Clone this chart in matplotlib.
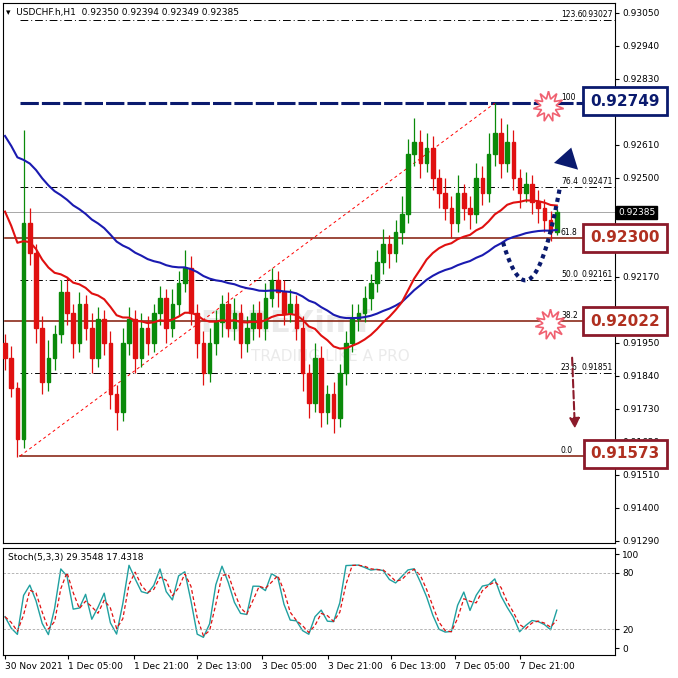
import numpy as np
import pandas as pd
import matplotlib
matplotlib.use("Agg")
import matplotlib.pyplot as plt
from matplotlib.patches import Rectangle

closes = [0.9190,0.9180,0.9163,0.9235,0.9225,0.9200,0.9182,0.9190,0.9198,0.9212,
          0.9205,0.9195,0.9208,0.9200,0.9190,0.9203,0.9195,0.9178,0.9172,0.9195,
          0.9203,0.9190,0.9200,0.9195,0.9205,0.9210,0.9200,0.9208,0.9215,0.9220,
          0.9205,0.9195,0.9185,0.9195,0.9202,0.9208,0.9200,0.9205,0.9195,0.9200,
          0.9205,0.9200,0.9210,0.9216,0.9212,0.9205,0.9208,0.9200,0.9185,0.9175,
          0.9190,0.9172,0.9178,0.9170,0.9185,0.9195,0.9203,0.9205,0.9210,0.9215,
          0.9222,0.9228,0.9225,0.9232,0.9238,0.9258,0.9262,0.9255,0.9260,0.9250,
          0.9245,0.9240,0.9235,0.9245,0.9240,0.9238,0.9250,0.9245,0.9258,0.9265,
          0.9255,0.9262,0.9250,0.9245,0.9248,0.9242,0.9240,0.9236,0.9232,0.92385]
first_open = 0.9195
up_wick_pips = [3,4,2,31,5,3,4,6,3,4, 5,3,4,3,5,4,3,4,3,5, 4,3,5,4,3,4,3,5,4,6,
                4,3,4,5,4,3,4,5,3,4, 3,4,5,4,3,4,5,3,4,3, 5,4,3,4,3,4,5,3,4,3,
                4,5,3,4,6,5,8,4,5,4, 3,5,4,6,3,4,5,4,7,10, 5,6,4,3,4,3,4,3,3,1]
dn_wick_pips = [4,3,6,3,4,5,4,3,4,3, 4,5,3,4,5,3,4,5,6,3, 4,5,3,4,3,4,5,3,4,3,
                4,5,4,3,4,5,3,4,5,3, 4,3,4,3,5,4,3,4,6,5, 3,5,4,5,3,4,3,4,3,4,
                3,4,5,3,4,3,4,5,3,4, 5,4,5,3,4,5,3,4,3,4, 5,3,4,5,3,4,5,4,3,1]
ema_fast_seed = 0.9243
ema_slow_seed = 0.9267
fib_levels = [0.0, 23.6, 38.2, 50.0, 61.8, 76.4, 100.0, 123.6]
fib_prices = [0.91573, 0.91851, 0.92022, 0.92161, 0.92300, 0.92471, 0.92749, 0.93027]
price_ticks = [0.93050,0.92940,0.92830,0.92720,0.92610,0.92500,0.92170,
               0.91950,0.91840,0.91730,0.91620,0.91510,0.91400,0.91290]
date_labels = ["30 Nov 2021","1 Dec 05:00","1 Dec 21:00","2 Dec 13:00","3 Dec 05:00",
               "3 Dec 21:00","6 Dec 13:00","7 Dec 05:00","7 Dec 21:00"]
date_px = [5,68,134,197,262,328,391,455,520]
box_prices = ["0.92749","0.92300","0.92022","0.91573"]

n = len(closes)
c = np.array(closes)
o = np.concatenate([[first_open], c[:-1]])
h = np.maximum(o, c) + np.array(up_wick_pips) * 1e-4
l = np.minimum(o, c) - np.array(dn_wick_pips) * 1e-4
h[79] = 0.92749

ema_f = pd.Series(np.concatenate([[ema_fast_seed], c])).ewm(span=24, adjust=False).mean().values[1:]
ema_s = pd.Series(np.concatenate([[ema_slow_seed], c])).ewm(span=50, adjust=False).mean().values[1:]

hh = pd.Series(h).rolling(3, min_periods=1).max()
ll = pd.Series(l).rolling(3, min_periods=1).min()
num = (pd.Series(c) - ll).rolling(2, min_periods=1).sum()
den = (hh - ll).rolling(2, min_periods=1).sum()
k = (100 * num / den).values
d = pd.Series(k).rolling(2, min_periods=1).mean().values

W = 678
fig = plt.figure(figsize=(6.78, 6.78), dpi=100)
px = lambda v: v / W
step = 6.2
def ix(xp):
    return (xp - 5) / step
xl = (ix(3), ix(615))

ax = fig.add_axes([px(3), 1 - px(543), px(612), px(540)])
ax.set_xlim(*xl)
ax.set_ylim(0.91283, 0.93083)
for sp in ax.spines.values():
    sp.set_color('black'); sp.set_linewidth(0.8)
ax.set_xticks([])
ax.yaxis.tick_right()
ax.set_yticks(price_ticks)
ax.set_yticklabels([f"{p:.5f}" for p in price_ticks], fontsize=6.5)
ax.tick_params(axis='y', length=3, pad=2)

x0 = ix(20)
for lv, p in zip(fib_levels, fib_prices):
    if lv in (0.0, 38.2, 61.8):
        ax.plot([ix(5) if lv != 0.0 else x0, ix(585)], [p, p], color='#8b2b1a', lw=1.2, zorder=2)
    elif lv == 100.0:
        ax.plot([ix(20), ix(585)], [p, p], color='#0a1a6e', lw=2.2, ls=(0, (6, 1)), zorder=2)
    else:
        ax.plot([x0, ix(615)], [p, p], color='black', lw=0.7, ls=(0, (8, 3, 1, 3)), zorder=2)
    lab = "100" if lv == 100.0 else f"{lv:.1f}"
    ax.text(ix(561), p + 0.00003, lab, fontsize=5.5, va='bottom', zorder=5)
    if lv in (23.6, 50.0, 76.4, 123.6):
        ax.text(ix(613), p + 0.00003, f"{p:.5f}", fontsize=5.5, va='bottom', ha='right', zorder=5)
ax.plot([ix(20), 79], [fib_prices[0], fib_prices[6]], color='red', lw=0.7, ls=(0, (3, 3)), zorder=2)
ax.axhline(c[-1], color='#999999', lw=0.6, zorder=1)

ax.text(ix(285), 0.91985, "FOREXimf", fontsize=22, color='#cccccc', alpha=0.4, ha='center', weight='bold', zorder=1)
ax.text(ix(330), 0.91890, "TRADING LIKE A PRO", fontsize=11, color='#cccccc', alpha=0.4, ha='center', zorder=1)

for i in range(n):
    col = '#0a8a0a' if c[i] >= o[i] else '#e01010'
    ax.vlines(i, l[i], h[i], color=col, lw=0.9, zorder=3)
    b0, b1 = min(o[i], c[i]), max(o[i], c[i])
    ax.add_patch(Rectangle((i - 0.28, b0), 0.56, max(b1 - b0, 0.00002), color=col, zorder=3))
xs = np.arange(n)
ax.plot(xs, ema_s, color='#1a1ab0', lw=1.5, zorder=4)
ax.plot(xs, ema_f, color='#e01010', lw=1.5, zorder=4)

t = np.linspace(0, 1, 40)
cx = (1 - t) ** 2 * ix(503) + 2 * (1 - t) * t * ix(532) + t ** 2 * ix(560)
cy = (1 - t) ** 2 * 0.92285 + 2 * (1 - t) * t * 0.91960 + t ** 2 * 0.92470
ax.plot(cx, cy, color='#0a1a6e', lw=3, ls=(0, (1, 1)), zorder=5)
ax.annotate("", xy=(ix(572), 0.92610), xytext=(ix(559), 0.92455),
            arrowprops=dict(arrowstyle='-|>,head_width=0.9,head_length=1.4', color='#0a1a6e', lw=0), zorder=6)
ax.annotate("", xy=(ix(575), 0.91655), xytext=(ix(572), 0.91910),
            arrowprops=dict(arrowstyle='-|>,head_width=0.3,head_length=0.6', color='#8b1a2a', lw=1.5, ls='--'), zorder=6)
for (xp, p) in [(548, 0.92749), (550, 0.92022)]:
    ax.plot(ix(xp), p - 0.0001, marker=(11, 1, 0), ms=22, mfc='white', mec='#f06070', mew=1.2, zorder=6)

ax.text(ix(6), 0.93050, "▾  USDCHF.h,H1  0.92350 0.92394 0.92349 0.92385", fontsize=6.5, va='center', zorder=7)
ax.text(1.005, c[-1], f"{c[-1]:.5f}", transform=ax.get_yaxis_transform(), fontsize=6.5, color='white',
        va='center', ha='left', bbox=dict(facecolor='black', edgecolor='black', pad=1.2), zorder=8, clip_on=False)

box_cols = ['#0a1a6e', '#8b1a2a', '#8b1a2a', '#8b1a2a']
box_y = [101, 238, 321, 454]
for txt, col, yp in zip(box_prices, box_cols, box_y):
    fig.text(px(625), 1 - px(yp), txt, fontsize=11, weight='bold', color=('#0a1a6e' if col == '#0a1a6e' else '#b03020'),
             ha='center', va='center',
             bbox=dict(boxstyle='square,pad=0.45', facecolor='white', edgecolor=col, lw=2), zorder=10)

ax2 = fig.add_axes([px(3), 1 - px(655), px(612), px(107)])
ax2.set_xlim(*xl)
ax2.set_ylim(-7.4, 106.4)
for sp in ax2.spines.values():
    sp.set_color('black'); sp.set_linewidth(0.8)
ax2.plot(xs, k, color='#20a0a0', lw=1.0)
ax2.plot(xs, d, color='#e01010', lw=0.9, ls=(0, (3, 2)))
for lv in (80, 20):
    ax2.axhline(lv, color='#aaaaaa', lw=0.6, ls=(0, (3, 2)))
ax2.yaxis.tick_right()
ax2.set_yticks([100, 80, 20, 0])
ax2.set_yticklabels(['100', '80', '20', '0'], fontsize=6.5)
ax2.tick_params(axis='y', length=3, pad=2)
ax2.set_xticks([ix(p) for p in date_px])
ax2.set_xticklabels(date_labels, fontsize=6.5, ha='left')
ax2.tick_params(axis='x', length=3, pad=2)
ax2.text(ix(8), 101, "Stoch(5,3,3) 29.3548 17.4318", fontsize=6.5, va='top')

fig.savefig("out.png", dpi=100, facecolor='white')
